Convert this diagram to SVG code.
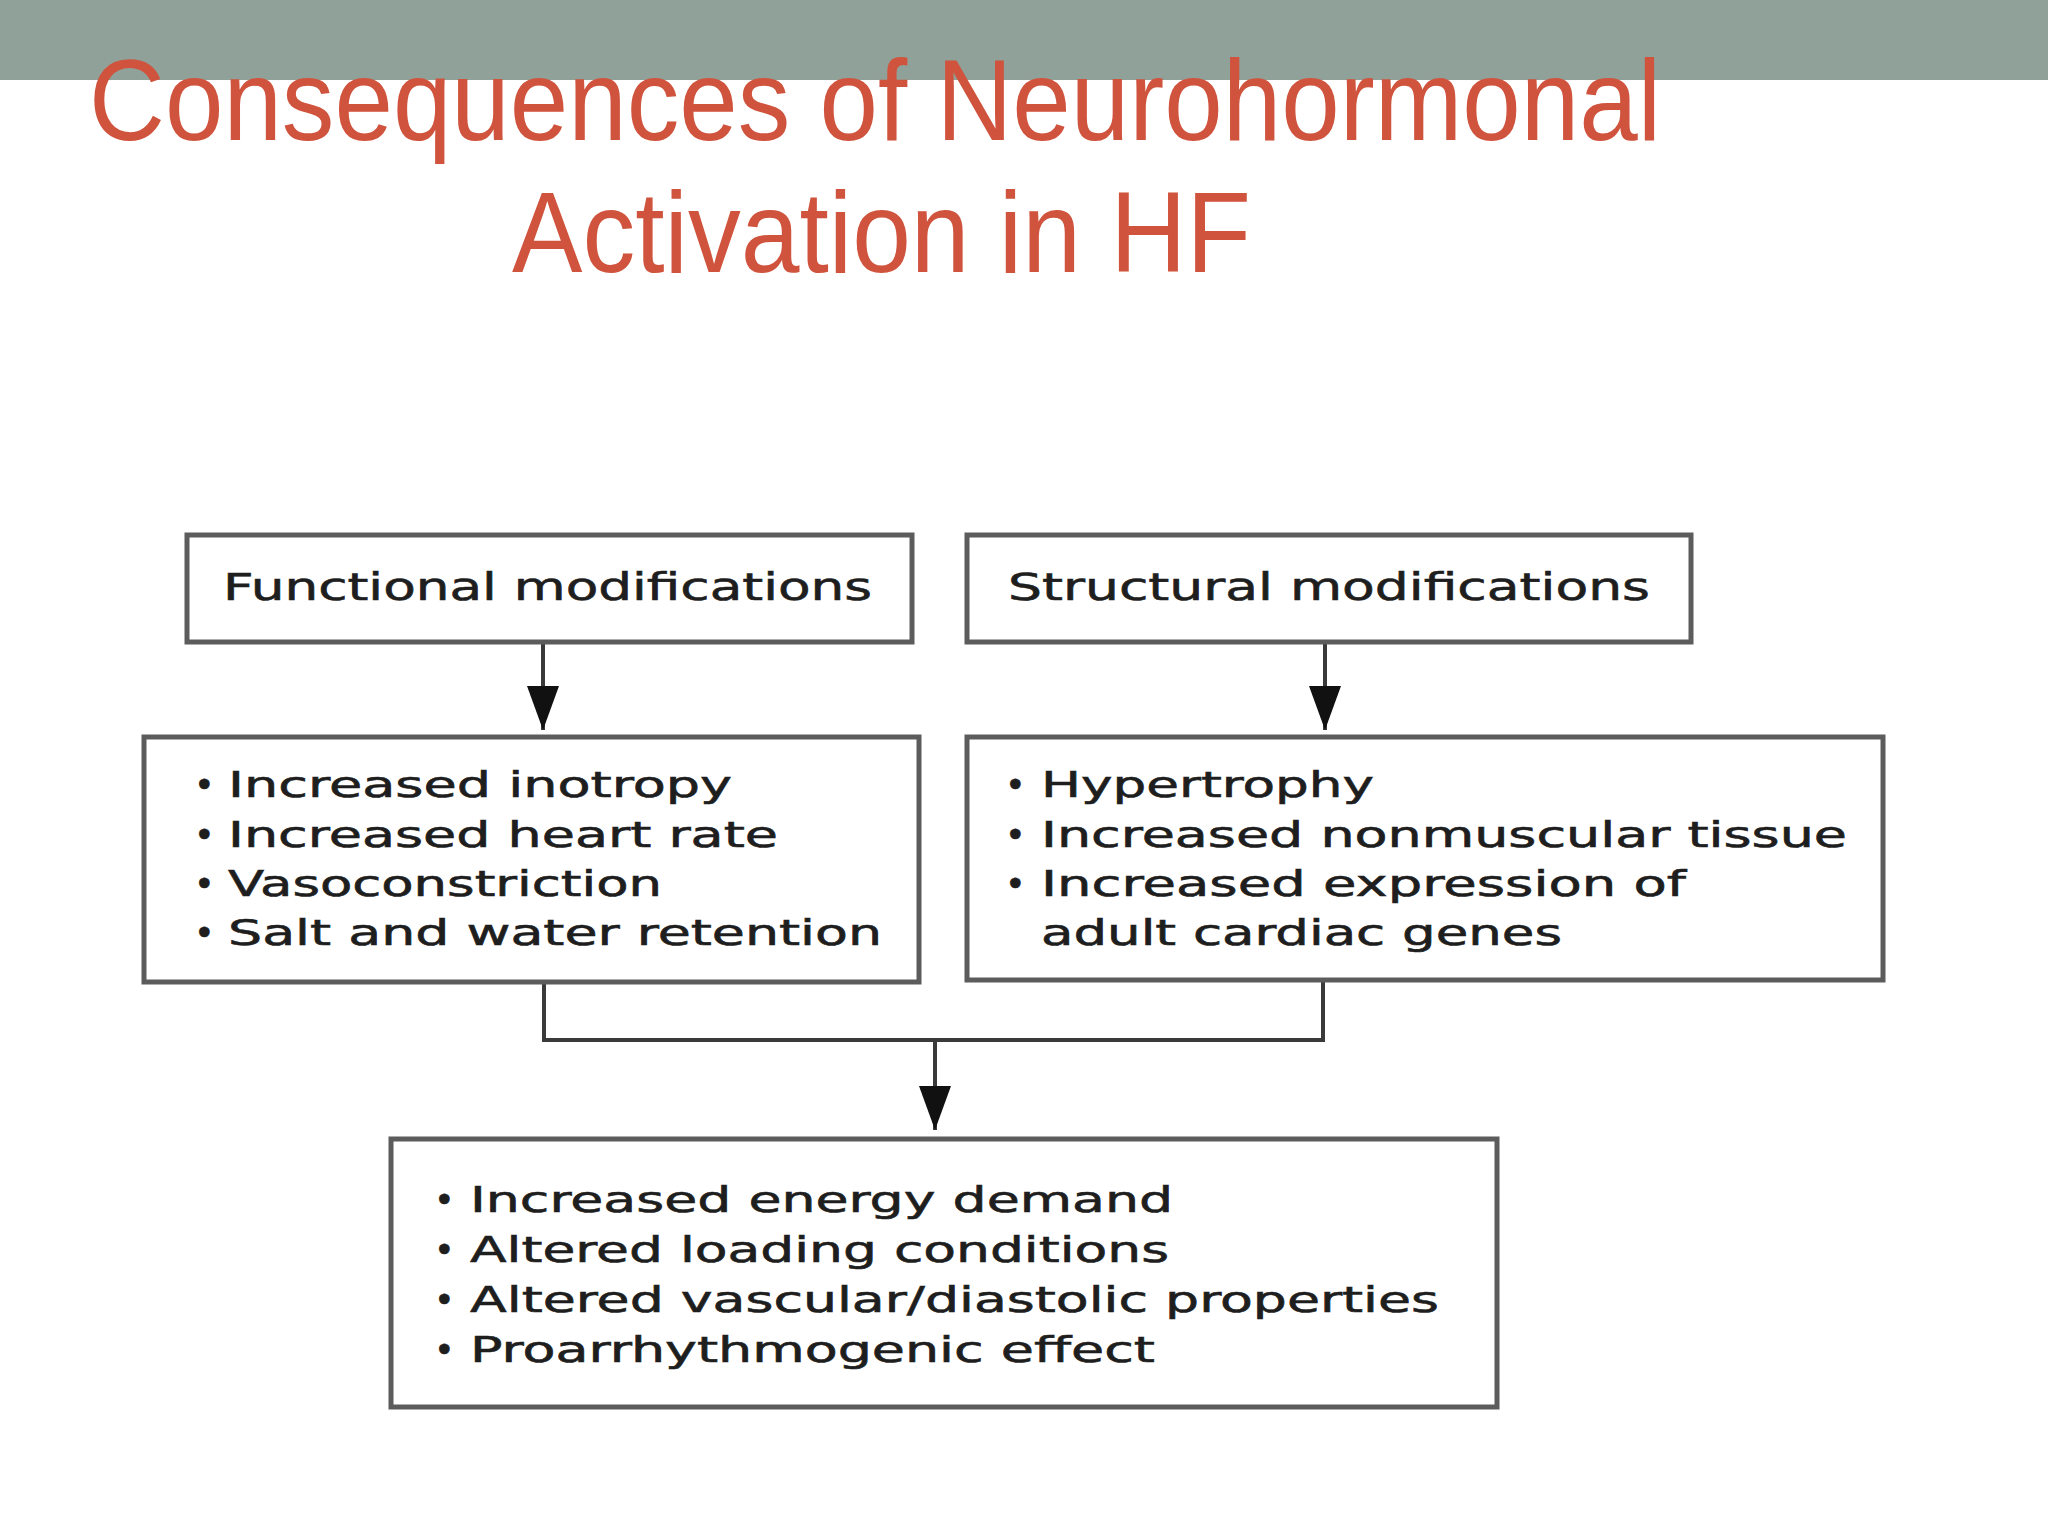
<svg xmlns="http://www.w3.org/2000/svg" width="2048" height="1536" viewBox="0 0 2048 1536">
<style>
.title{font-family:"Liberation Sans",Arial,sans-serif;fill:#d0533d;font-size:115px}
.box{fill:#ffffff;stroke:#5c5c5c;stroke-width:5}
.head{font-family:"DejaVu Sans",Verdana,sans-serif;font-size:37px;fill:#1e1e1e;stroke:#1e1e1e;stroke-width:0.6}
.item{font-family:"DejaVu Sans",Verdana,sans-serif;font-size:35px;fill:#1e1e1e;stroke:#1e1e1e;stroke-width:0.6}
.conn{fill:none;stroke:#3a3a3a;stroke-width:4}
</style>
<defs>
<marker id="arr" markerUnits="userSpaceOnUse" markerWidth="44" markerHeight="32" refX="44" refY="16" orient="auto">
<path d="M0,0 L44,16 L0,32 z" fill="#111111"/>
</marker>
</defs>
<rect x="0" y="0" width="2048" height="80" fill="#8fa198"/>
<g id="title">
<text class="title" x="89" y="140" textLength="1572" lengthAdjust="spacingAndGlyphs">Consequences of Neurohormonal</text>
<text class="title" x="512" y="272" textLength="739" lengthAdjust="spacingAndGlyphs">Activation in HF</text>
</g>
<g id="connectors">
<line class="conn" x1="543" y1="644" x2="543" y2="730" marker-end="url(#arr)"/>
<line class="conn" x1="1325" y1="644" x2="1325" y2="730" marker-end="url(#arr)"/>
<polyline class="conn" points="544,982 544,1040 1323,1040 1323,980"/>
<line class="conn" x1="935" y1="1040" x2="935" y2="1130" marker-end="url(#arr)"/>
</g>
<g id="functional">
<rect class="box" x="187" y="535" width="725" height="107"/>
<text class="head" x="223" y="600" textLength="649" lengthAdjust="spacingAndGlyphs">Functional modifications</text>
</g>
<g id="structural">
<rect class="box" x="967" y="535" width="724" height="107"/>
<text class="head" x="1008" y="600" textLength="642" lengthAdjust="spacingAndGlyphs">Structural modifications</text>
</g>
<g id="functional-effects">
<rect class="box" x="144" y="737" width="775" height="245"/>
<text class="item" x="194" y="797">•</text>
<text class="item" x="228" y="797" textLength="504" lengthAdjust="spacingAndGlyphs">Increased inotropy</text>
<text class="item" x="194" y="847">•</text>
<text class="item" x="228" y="847" textLength="550" lengthAdjust="spacingAndGlyphs">Increased heart rate</text>
<text class="item" x="194" y="896">•</text>
<text class="item" x="228" y="896" textLength="434" lengthAdjust="spacingAndGlyphs">Vasoconstriction</text>
<text class="item" x="194" y="945">•</text>
<text class="item" x="228" y="945" textLength="654" lengthAdjust="spacingAndGlyphs">Salt and water retention</text>
</g>
<g id="structural-effects">
<rect class="box" x="967" y="737" width="916" height="243"/>
<text class="item" x="1005" y="797">•</text>
<text class="item" x="1041" y="797" textLength="333" lengthAdjust="spacingAndGlyphs">Hypertrophy</text>
<text class="item" x="1005" y="847">•</text>
<text class="item" x="1041" y="847" textLength="806" lengthAdjust="spacingAndGlyphs">Increased nonmuscular tissue</text>
<text class="item" x="1005" y="896">•</text>
<text class="item" x="1041" y="896" textLength="645" lengthAdjust="spacingAndGlyphs">Increased expression of</text>
<text class="item" x="1041" y="945" textLength="521" lengthAdjust="spacingAndGlyphs">adult cardiac genes</text>
</g>
<g id="consequences">
<rect class="box" x="391" y="1139" width="1106" height="268"/>
<text class="item" x="434" y="1212">•</text>
<text class="item" x="470" y="1212" textLength="703" lengthAdjust="spacingAndGlyphs">Increased energy demand</text>
<text class="item" x="434" y="1262">•</text>
<text class="item" x="470" y="1262" textLength="699" lengthAdjust="spacingAndGlyphs">Altered loading conditions</text>
<text class="item" x="434" y="1312">•</text>
<text class="item" x="470" y="1312" textLength="969" lengthAdjust="spacingAndGlyphs">Altered vascular/diastolic properties</text>
<text class="item" x="434" y="1362">•</text>
<text class="item" x="470" y="1362" textLength="685" lengthAdjust="spacingAndGlyphs">Proarrhythmogenic effect</text>
</g>
</svg>
